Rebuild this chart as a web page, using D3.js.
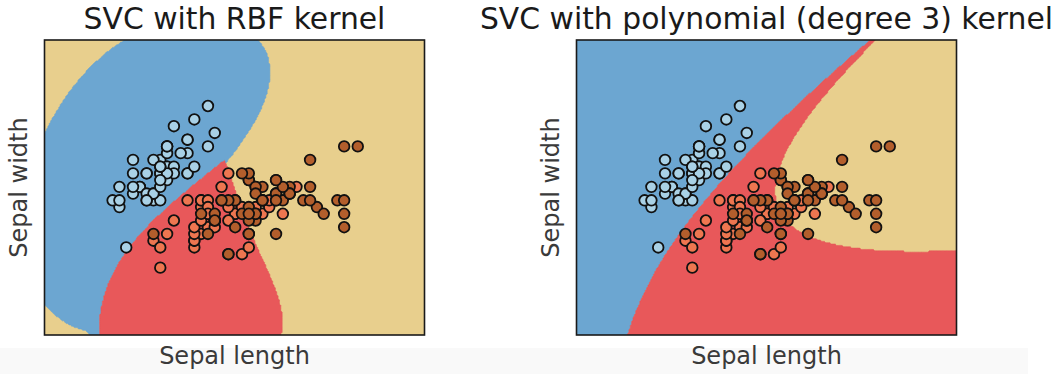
<!DOCTYPE html>
<html>
<head>
<meta charset="utf-8">
<script src="https://cdn.jsdelivr.net/npm/d3@7"></script>
<style>
  body { margin: 0; background: #fff; }
  svg { display: block; font-family: "DejaVu Sans", "Liberation Sans", sans-serif; }
</style>
</head>
<body>
<svg id="chart" width="1059" height="374"></svg>
<script>
// Iris measurements: sepal length / sepal width per species
const setosaLength = [5.1,4.9,4.7,4.6,5.0,5.4,4.6,5.0,4.4,4.9,5.4,4.8,4.8,4.3,5.8,5.7,5.4,5.1,5.7,5.1,5.4,5.1,4.6,5.1,4.8,5.0,5.0,5.2,5.2,4.7,4.8,5.4,5.2,5.5,4.9,5.0,5.5,4.9,4.4,5.1,5.0,4.5,4.4,5.0,5.1,4.8,5.1,4.6,5.3,5.0];
const setosaWidth  = [3.5,3.0,3.2,3.1,3.6,3.9,3.4,3.4,2.9,3.1,3.7,3.4,3.0,3.0,4.0,4.4,3.9,3.5,3.8,3.8,3.4,3.7,3.6,3.3,3.4,3.0,3.4,3.5,3.4,3.2,3.1,3.4,4.1,4.2,3.1,3.2,3.5,3.6,3.0,3.4,3.5,2.3,3.2,3.5,3.8,3.0,3.8,3.2,3.7,3.3];
const versicolorLength = [7.0,6.4,6.9,5.5,6.5,5.7,6.3,4.9,6.6,5.2,5.0,5.9,6.0,6.1,5.6,6.7,5.6,5.8,6.2,5.6,5.9,6.1,6.3,6.1,6.4,6.6,6.8,6.7,6.0,5.7,5.5,5.5,5.8,6.0,5.4,6.0,6.7,6.3,5.6,5.5,5.5,6.1,5.8,5.0,5.6,5.7,5.7,6.2,5.1,5.7];
const versicolorWidth  = [3.2,3.2,3.1,2.3,2.8,2.8,3.3,2.4,2.9,2.7,2.0,3.0,2.2,2.9,2.9,3.1,3.0,2.7,2.2,2.5,3.2,2.8,2.5,2.8,2.9,3.0,2.8,3.0,2.9,2.6,2.4,2.4,2.7,2.7,3.0,3.4,3.1,2.3,3.0,2.5,2.6,3.0,2.6,2.3,2.7,3.0,2.9,2.9,2.5,2.8];
const virginicaLength = [6.3,5.8,7.1,6.3,6.5,7.6,4.9,7.3,6.7,7.2,6.5,6.4,6.8,5.7,5.8,6.4,6.5,7.7,7.7,6.0,6.9,5.6,7.7,6.3,6.7,7.2,6.2,6.1,6.4,7.2,7.4,7.9,6.4,6.3,6.1,7.7,6.3,6.4,6.0,6.9,6.7,6.9,5.8,6.8,6.7,6.7,6.3,6.5,6.2,5.9];
const virginicaWidth  = [3.3,2.7,3.0,2.9,3.0,3.0,2.5,2.9,2.5,3.6,3.2,2.7,3.0,2.5,2.8,3.2,3.0,3.8,2.6,2.2,3.2,2.8,2.8,2.7,3.3,3.2,2.8,3.0,2.8,3.0,2.8,3.8,2.8,2.8,2.6,3.0,3.4,3.1,3.0,3.1,3.1,3.1,2.7,3.2,3.3,3.0,2.5,3.0,3.4,3.0];

const panelTitles = ["SVC with RBF kernel", "SVC with polynomial (degree 3) kernel"];
const xLabel = "Sepal length";
const yLabel = "Sepal width";

// classifier settings
const penaltyC = 1.0;
const rbfGamma = 0.7;
const polyDegree = 3, polyGamma = 0.5, polyCoef0 = 0;
const meshStep = 0.02;

// colours
const regionColors = ["#6ca6d1", "#e8585a", "#e8cf8d"];
const pointColors  = ["#a9d1e6", "#ee7650", "#b35e2c"];

const classLengths = [setosaLength, versicolorLength, virginicaLength];
const classWidths  = [setosaWidth, versicolorWidth, virginicaWidth];
const points = [];
classLengths.forEach((ls, c) => ls.forEach((l, k) => points.push({x: l, y: classWidths[c][k], c})));

const kernels = [
  (a, b) => { const dx = a[0]-b[0], dy = a[1]-b[1]; return Math.exp(-rbfGamma*(dx*dx+dy*dy)); },
  (a, b) => Math.pow(polyGamma*(a[0]*b[0]+a[1]*b[1]) + polyCoef0, polyDegree)
];

// binary C-SVC dual solved with SMO (second-order working set selection)
function fitBinary(X, y, kern, C) {
  const n = X.length, eps = 1e-3, TAU = 1e-12;
  const K = X.map(a => Float64Array.from(X, b => kern(a, b)));
  const alpha = new Float64Array(n), G = new Float64Array(n).fill(-1);
  for (let iter = 0; iter < 3e6; iter++) {
    let Gmax = -Infinity, i = -1;
    for (let t = 0; t < n; t++) {
      if (y[t] === 1) { if (alpha[t] < C && -G[t] >= Gmax) { Gmax = -G[t]; i = t; } }
      else { if (alpha[t] > 0 && G[t] >= Gmax) { Gmax = G[t]; i = t; } }
    }
    if (i < 0) break;
    let Gmax2 = -Infinity, j = -1, minObj = Infinity;
    const Ki = K[i];
    for (let t = 0; t < n; t++) {
      const quad = Ki[i] + K[t][t] - 2*Ki[t];
      if (y[t] === 1) {
        if (alpha[t] > 0) {
          const gd = Gmax + G[t];
          if (G[t] >= Gmax2) Gmax2 = G[t];
          if (gd > 0) { const od = -gd*gd/(quad > 0 ? quad : TAU); if (od <= minObj) { j = t; minObj = od; } }
        }
      } else {
        if (alpha[t] < C) {
          const gd = Gmax - G[t];
          if (-G[t] >= Gmax2) Gmax2 = -G[t];
          if (gd > 0) { const od = -gd*gd/(quad > 0 ? quad : TAU); if (od <= minObj) { j = t; minObj = od; } }
        }
      }
    }
    if (Gmax + Gmax2 < eps || j < 0) break;
    const Kj = K[j];
    const ai = alpha[i], aj = alpha[j];
    if (y[i] !== y[j]) {
      let quad = Ki[i] + Kj[j] - 2*Ki[j]; if (quad <= 0) quad = TAU;
      const delta = (-G[i]-G[j])/quad, diff = alpha[i]-alpha[j];
      alpha[i] += delta; alpha[j] += delta;
      if (diff > 0) { if (alpha[j] < 0) { alpha[j] = 0; alpha[i] = diff; } }
      else { if (alpha[i] < 0) { alpha[i] = 0; alpha[j] = -diff; } }
      if (diff > 0) { if (alpha[i] > C) { alpha[i] = C; alpha[j] = C - diff; } }
      else { if (alpha[j] > C) { alpha[j] = C; alpha[i] = C + diff; } }
    } else {
      let quad = Ki[i] + Kj[j] - 2*Ki[j]; if (quad <= 0) quad = TAU;
      const delta = (G[i]-G[j])/quad, sum = alpha[i]+alpha[j];
      alpha[i] -= delta; alpha[j] += delta;
      if (sum > C) { if (alpha[i] > C) { alpha[i] = C; alpha[j] = sum - C; } }
      else { if (alpha[j] < 0) { alpha[j] = 0; alpha[i] = sum; } }
      if (sum > C) { if (alpha[j] > C) { alpha[j] = C; alpha[i] = sum - C; } }
      else { if (alpha[i] < 0) { alpha[i] = 0; alpha[j] = sum; } }
    }
    const dai = (alpha[i]-ai)*y[i], daj = (alpha[j]-aj)*y[j];
    for (let k = 0; k < n; k++) G[k] += y[k]*(Ki[k]*dai + Kj[k]*daj);
  }
  // intercept
  let ub = Infinity, lb = -Infinity, nFree = 0, sumFree = 0;
  for (let t = 0; t < n; t++) {
    const yG = y[t]*G[t];
    if (alpha[t] >= C) { if (y[t] === -1) ub = Math.min(ub, yG); else lb = Math.max(lb, yG); }
    else if (alpha[t] <= 0) { if (y[t] === 1) ub = Math.min(ub, yG); else lb = Math.max(lb, yG); }
    else { nFree++; sumFree += yG; }
  }
  const rho = nFree > 0 ? sumFree/nFree : (ub+lb)/2;
  const sv = [], coef = [];
  for (let t = 0; t < n; t++) if (alpha[t] > 0) { sv.push(X[t]); coef.push(alpha[t]*y[t]); }
  return {sv, coef, rho};
}

// one-vs-one multiclass model
function fitOvO(kern) {
  const models = [];
  for (let a = 0; a < 3; a++) for (let b = a+1; b < 3; b++) {
    const sub = points.filter(p => p.c === a || p.c === b);
    models.push({a, b, m: fitBinary(sub.map(p => [p.x, p.y]), sub.map(p => p.c === a ? 1 : -1), kern, penaltyC)});
  }
  return q => {
    const votes = [0, 0, 0];
    for (const {a, b, m} of models) {
      let s = -m.rho;
      for (let k = 0; k < m.sv.length; k++) s += m.coef[k]*kern(m.sv[k], q);
      votes[s > 0 ? a : b]++;
    }
    let best = 0;
    for (let c = 1; c < 3; c++) if (votes[c] > votes[best]) best = c;
    return best;
  };
}

// mesh spanning the data with a margin of 1
const xMin = d3.min(points, p => p.x) - 1, xMax = d3.max(points, p => p.x) + 1;
const yMin = d3.min(points, p => p.y) - 1, yMax = d3.max(points, p => p.y) + 1;
const nx = Math.round((xMax - xMin)/meshStep), ny = Math.round((yMax - yMin)/meshStep);
const xTop = xMin + (nx-1)*meshStep, yTop = yMin + (ny-1)*meshStep;

const svg = d3.select("#chart");
svg.append("rect").attr("x", 0).attr("y", 348).attr("width", 1028).attr("height", 26).attr("fill", "#f9f9f9");

const panelLeft = [44.5, 576.5], panelTop = 40, panelW = 380, panelH = 295;

panelTitles.forEach((title, pi) => {
  const x = d3.scaleLinear().domain([xMin, xTop]).range([panelLeft[pi], panelLeft[pi] + panelW]);
  const y = d3.scaleLinear().domain([yMin, yTop]).range([panelTop + panelH, panelTop]);
  const predict = fitOvO(kernels[pi]);

  const labels = new Int8Array(nx*ny);
  for (let j = 0; j < ny; j++) {
    const yy = yTop - j*meshStep;
    for (let i = 0; i < nx; i++) labels[i + j*nx] = predict([xMin + i*meshStep, yy]);
  }

  const g = svg.append("g");
  const clipId = "clip" + pi;
  svg.append("clipPath").attr("id", clipId).append("rect")
    .attr("x", x.range()[0]).attr("y", panelTop).attr("width", panelW).attr("height", panelH);

  const regions = g.append("g").attr("clip-path", `url(#${clipId})`);
  regions.append("rect").attr("x", x.range()[0]).attr("y", panelTop)
    .attr("width", panelW).attr("height", panelH).attr("fill", regionColors[2]);

  const toPixels = d3.geoTransform({
    point(cx, cy) { this.stream.point(x(xMin + (cx - 0.5)*meshStep), y(yTop - (cy - 0.5)*meshStep)); }
  });
  const path = d3.geoPath(toPixels);
  const contours = d3.contours().size([nx, ny]).thresholds([0.5]);
  [2, 0, 1].forEach(c => {
    const ind = Float64Array.from(labels, v => v === c ? 1 : 0);
    regions.append("path").datum(contours(ind)[0])
      .attr("d", path).attr("fill", regionColors[c])
      .attr("stroke", regionColors[c]).attr("stroke-width", 0.6);
  });

  g.append("g").selectAll("circle").data(points).join("circle")
    .attr("cx", d => x(d.x)).attr("cy", d => y(d.y)).attr("r", 5.3)
    .attr("fill", d => pointColors[d.c]).attr("stroke", "#111").attr("stroke-width", 1.8);

  g.append("rect").attr("x", x.range()[0]).attr("y", panelTop)
    .attr("width", panelW).attr("height", panelH)
    .attr("fill", "none").attr("stroke", "#1a1a1a").attr("stroke-width", 1.6);

  const cx = panelLeft[pi] + panelW/2;
  g.append("text").attr("x", cx).attr("y", 29).attr("text-anchor", "middle")
    .attr("font-size", 29.8).attr("fill", "#1a1a1a").text(title);
  g.append("text").attr("x", cx).attr("y", 364).attr("text-anchor", "middle")
    .attr("font-size", 24).attr("fill", "#3a3a3a").text(xLabel);
  g.append("text").attr("transform", `translate(${panelLeft[pi] - 17.5},${panelTop + panelH/2}) rotate(-90)`)
    .attr("text-anchor", "middle").attr("font-size", 24).attr("fill", "#3a3a3a").text(yLabel);
});
</script>
</body>
</html>
